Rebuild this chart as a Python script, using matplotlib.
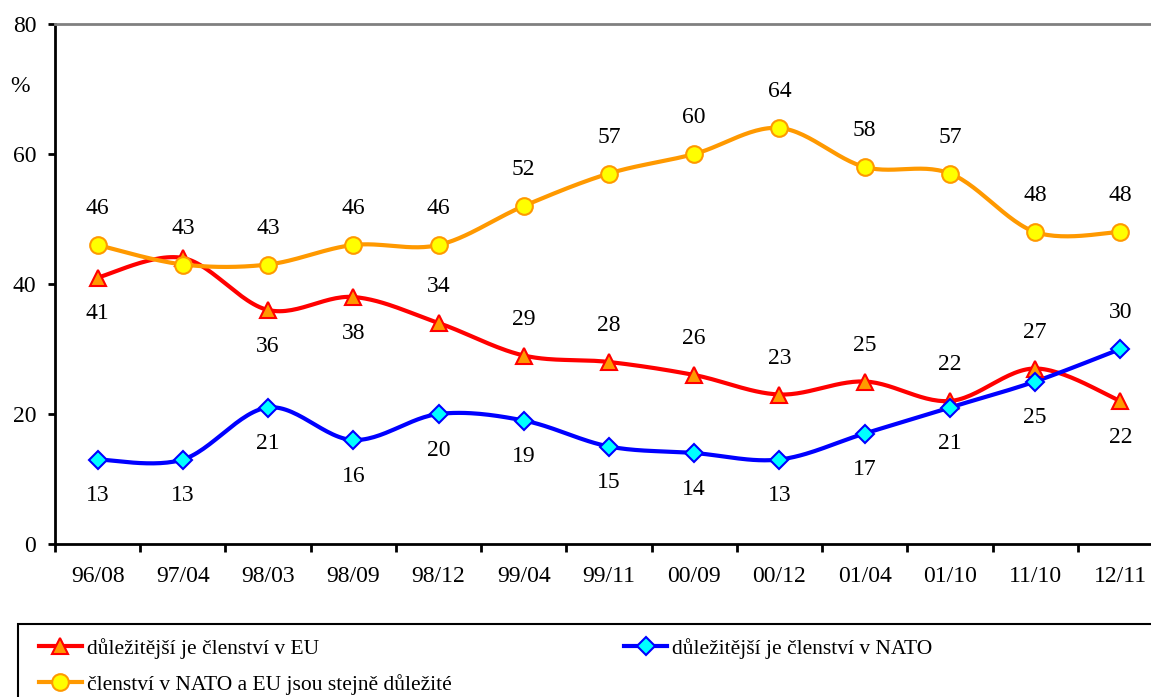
import matplotlib
matplotlib.use("Agg")
import matplotlib.pyplot as plt
from matplotlib.patches import Rectangle
from matplotlib.lines import Line2D
import numpy as np

plt.rcParams['font.family'] = ['Liberation Serif', 'DejaVu Serif']

categories = ["96/08", "97/04", "98/03", "98/09", "98/12", "99/04", "99/11",
              "00/09", "00/12", "01/04", "01/10", "11/10", "12/11"]
eu = [41, 44, 36, 38, 34, 29, 28, 26, 23, 25, 22, 27, 22]
nato = [13, 13, 21, 16, 20, 19, 15, 14, 13, 17, 21, 25, 30]
both = [46, 43, 43, 46, 46, 52, 57, 60, 64, 58, 57, 48, 48]

# label placement: +1 above, -1 below, 0 none
eu_pos = [-1, 0, -1, -1, 1, 1, 1, 1, 1, 1, 1, 1, -1]
nato_pos = [-1, -1, -1, -1, -1, -1, -1, -1, -1, -1, -1, -1, 1]
both_pos = [1] * 13

label_eu = "důležitější je členství v EU"
label_nato = "důležitější je členství v NATO"
label_both = "členství v NATO a EU jsou stejně důležité"

W, H = 1151, 697
fig = plt.figure(figsize=(W / 100, H / 100), dpi=100)
ax = fig.add_axes([55 / W, 1 - 544 / H, (1163 - 55) / W, 520 / H])


def smooth(y, n=30):
    x = np.arange(len(y), dtype=float)
    y = np.asarray(y, dtype=float)
    P = np.column_stack([x, y])
    out = [P[0]]
    N = len(P)
    for i in range(N - 1):
        p0 = P[i - 1] if i > 0 else P[i]
        p1 = P[i]
        p2 = P[i + 1]
        p3 = P[i + 2] if i + 2 < N else P[i + 1]
        c1 = p1 + (p2 - p0) / 6.0
        c2 = p2 - (p3 - p1) / 6.0
        t = np.linspace(0, 1, n)[1:, None]
        seg = ((1 - t) ** 3) * p1 + 3 * ((1 - t) ** 2) * t * c1 + 3 * (1 - t) * t ** 2 * c2 + t ** 3 * p2
        out.extend(seg)
    out = np.array(out)
    return out[:, 0], out[:, 1]


series = [
    (eu, eu_pos, '#FF0000', '^', '#FF9900', '#FF0000', 12, label_eu),
    (nato, nato_pos, '#0000FF', 'D', '#00FFFF', '#0000FF', 9, label_nato),
    (both, both_pos, '#FF9900', 'o', '#FFFF00', '#FF9900', 12, label_both),
]

handles = []
xs = np.arange(len(categories))
for vals, pos, lc, mk, mfc, mec, ms, lab in series:
    sx, sy = smooth(vals)
    ax.plot(sx, sy, color=lc, lw=3, solid_capstyle='round', zorder=2)
    ax.plot(xs, vals, ls='none', marker=mk, ms=ms, mfc=mfc, mec=mec, mew=1.5, zorder=3)
    for xi, v, p in zip(xs, vals, pos):
        if p == 0:
            continue
        ax.annotate(str(v), (xi, v), xytext=(0, 26 * p), textcoords='offset points',
                    ha='center', va='center', fontsize=17, zorder=4)
    handles.append(Line2D([], [], color=lc, lw=3, marker=mk, ms=ms, mfc=mfc, mec=mec, mew=1.5, label=lab))

ax.set_xlim(-0.5, len(categories) - 0.5)
ax.set_ylim(0, 80)
ax.set_yticks([0, 20, 40, 60, 80])
ax.set_xticks(xs)
ax.set_xticklabels(categories)
ax.set_xticks(np.arange(-0.5, len(categories), 1.0), minor=True)
ax.tick_params(axis='x', which='major', length=0, pad=16, labelsize=17)
ax.tick_params(axis='x', which='minor', length=5.5, width=2, direction='out')
ax.tick_params(axis='y', length=5, width=2, direction='out', labelsize=17, pad=8.5)
ax.spines['top'].set_color('#808080')
ax.spines['top'].set_linewidth(2)
ax.spines['left'].set_linewidth(2)
ax.spines['bottom'].set_linewidth(2)
ax.spines['right'].set_visible(False)

fig.text(20 / W, 1 - 87 / H, "%", fontsize=17, ha='center', va='center')

# legend frame
fig.patches.append(Rectangle((18 / W, -0.05), 1.2, (697 - 624) / H + 0.05,
                             transform=fig.transFigure, fill=False, ec='black', lw=1.5))
leg = fig.legend(handles=[handles[0], handles[2], handles[1]], loc='upper left',
                 bbox_to_anchor=(30 / W, 1 - 629 / H), ncol=2, frameon=False,
                 fontsize=15.5, handlelength=2.0, handletextpad=0.25, columnspacing=8.0,
                 labelspacing=0.72, borderaxespad=0)

fig.savefig("out.png", dpi=100)
